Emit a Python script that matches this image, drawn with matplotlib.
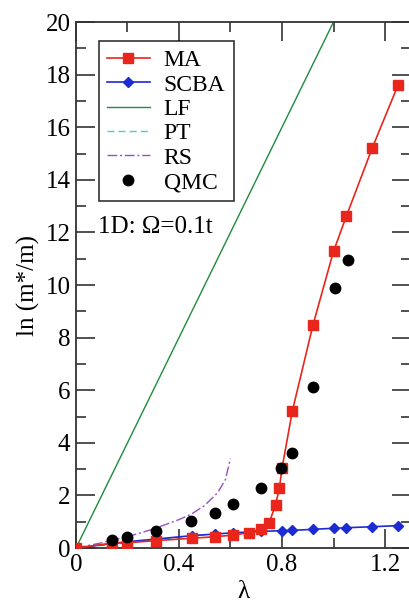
import numpy as np
import matplotlib.pyplot as plt
from matplotlib.ticker import MultipleLocator

# Datos: ln(m*/m) frente a lambda, 1D con Omega = 0.1t
lam_ma = [0, 0.14, 0.2, 0.31, 0.45, 0.54, 0.61, 0.67, 0.72, 0.75, 0.775,
          0.79, 0.8, 0.84, 0.92, 1.0, 1.05, 1.15, 1.25]
ln_ma = [0, 0.18, 0.2, 0.28, 0.37, 0.43, 0.49, 0.58, 0.73, 0.95, 1.65,
         2.28, 3.03, 5.2, 8.47, 11.28, 12.62, 15.2, 17.59]

lam_scba = [0, 0.14, 0.2, 0.31, 0.45, 0.54, 0.61, 0.72, 0.8, 0.84, 0.92,
            1.0, 1.05, 1.15, 1.25]
ln_scba = [0, 0.17, 0.24, 0.34, 0.47, 0.53, 0.58, 0.63, 0.66, 0.67, 0.71,
           0.75, 0.77, 0.81, 0.85]

lam_lf = [0, 1.0]
ln_lf = [0, 20]

lam_pt = [0, 0.1, 0.2, 0.3, 0.4, 0.5]
ln_pt = [0, 0.1, 0.2, 0.3, 0.4, 0.5]

lam_rs = [0, 0.1, 0.2, 0.3, 0.4, 0.45, 0.5, 0.55, 0.58, 0.6]
ln_rs = [0, 0.2, 0.43, 0.72, 1.08, 1.3, 1.62, 2.1, 2.6, 3.4]

lam_qmc = [0.14, 0.2, 0.31, 0.445, 0.54, 0.61, 0.72, 0.795, 0.838, 0.922,
           1.006, 1.055]
ln_qmc = [0.3, 0.4, 0.66, 1.03, 1.34, 1.67, 2.27, 3.05, 3.63, 6.13,
          9.87, 10.94]

plt.rcParams['font.family'] = ['Liberation Serif', 'DejaVu Serif']

fig = plt.figure(figsize=(4.09, 6.05), dpi=100)
ax = fig.add_axes([0.1858, 0.0942, 0.8185, 0.8694])

ax.plot(lam_pt, ln_pt, color='#40d0d0', lw=1, ls=(0, (5, 3)), label='PT', zorder=1)
ax.plot(lam_lf, ln_lf, color='#1e8c3a', lw=1, label='LF', zorder=2)
ax.plot(lam_rs, ln_rs, color='#9a4fc0', lw=1, ls=(0, (7, 2, 1.5, 2)), label='RS', zorder=2)
ax.plot(lam_scba, ln_scba, color='#1c2bd4', lw=1.2, marker='D', ms=5,
        label='SCBA', zorder=3)
ax.plot(lam_ma, ln_ma, color='#e8261c', lw=1.2, marker='s', ms=6.5,
        label='MA', zorder=4)
ax.plot(lam_qmc, ln_qmc, 'o', color='black', ms=7.5, label='QMC', zorder=5)

ax.set_xlim(0, 1.3)
ax.set_ylim(0, 20)
ax.xaxis.set_major_locator(MultipleLocator(0.4))
ax.xaxis.set_minor_locator(MultipleLocator(0.2))
ax.yaxis.set_major_locator(MultipleLocator(2))
ax.yaxis.set_minor_locator(MultipleLocator(1))
ax.xaxis.set_major_formatter(plt.FuncFormatter(lambda v, p: f"{v:g}"))
ax.tick_params(which='both', direction='in', top=True, right=True,
               labelsize=18, color='#333333', width=1.2, pad=4)
ax.tick_params(which='major', length=14)
ax.tick_params(which='minor', length=7)
for s in ax.spines.values():
    s.set_linewidth(1.3)
    s.set_color('#333333')

ax.set_xlabel('λ', fontsize=18, labelpad=4)
ax.set_ylabel('ln (m*/m)', fontsize=18, labelpad=4)

# Leyenda en el orden del artículo
h, l = ax.get_legend_handles_labels()
orden = ['MA', 'SCBA', 'LF', 'PT', 'RS', 'QMC']
hh = [h[l.index(k)] for k in orden]
leg = ax.legend(hh, orden, loc='upper left', bbox_to_anchor=(0.068, 0.963),
                fontsize=17, frameon=True, fancybox=False, edgecolor='black',
                handlelength=1.8, handletextpad=0.6, labelspacing=0.12,
                borderpad=0.35, borderaxespad=0)
leg.get_frame().set_linewidth(1.2)

ax.text(0.065, 0.61, '1D: Ω=0.1t', transform=ax.transAxes, fontsize=18,
        va='center', ha='left')

fig.savefig('out.png', dpi=100)
